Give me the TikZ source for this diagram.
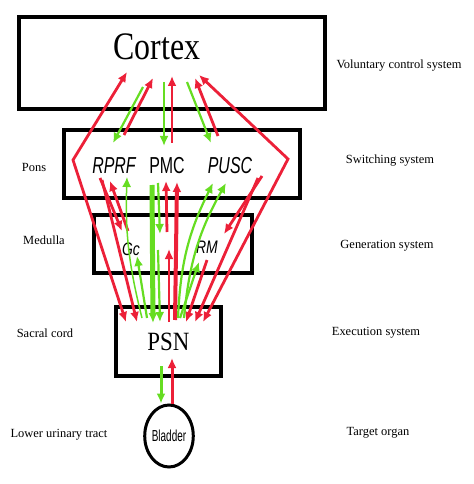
\documentclass[tikz,border=0pt]{standalone}
\usepackage{fontspec}
\setmainfont{Liberation Serif}
\setsansfont{Liberation Sans}
\usetikzlibrary{shapes,arrows,arrows.meta}
\definecolor{nred}{RGB}{236,32,56}
\definecolor{ngreen}{RGB}{102,221,34}
\newcommand{\tall}[2]{\scalebox{1}[#1]{#2}}
\tikzset{box/.style={draw,line width=3.5bp,inner sep=0pt},
  lvl/.style={font=\fontsize{12.5}{14}\selectfont},
  nuc/.style={font=\sffamily\fontsize{16}{18}\selectfont},
  rd/.style={->,nred,line width=2.8bp},
  gr/.style={->,ngreen,line width=2.2bp}}
\begin{document}
\begin{tikzpicture}[auto, >={Latex[length=10bp,width=9bp]}, x=1bp, y=-1bp]
\useasboundingbox (0,0) rectangle (474,484);
% levels
\node[box,minimum width=306bp,minimum height=92bp] (cortexbox) at (172,63) {};
\node[box,minimum width=236bp,minimum height=68bp] (pons) at (182,164) {};
\node[box,minimum width=158bp,minimum height=58bp] (medulla) at (173,244) {};
\node[box,minimum width=105bp,minimum height=69bp,font=\fontsize{23}{24}\selectfont] (psn) at (168.5,341.5) {\tall{1.15}{PSN}};
\node[box,ellipse,line width=3bp,minimum width=48bp,minimum height=62bp,font=\sffamily\fontsize{10}{11}\selectfont] (bladder) at (169,436) {\tall{1.6}{Bladder}};
\node[font=\fontsize{32}{34}\selectfont] (cortex) at (157,47) {\tall{1.22}{Cortex}};
% nuclei
\node[nuc] (rprf) at (114,166) {\tall{1.45}{\itshape RPRF}};
\node[nuc] (pmc) at (167,166) {\tall{1.45}{PMC}};
\node[nuc] (pusc) at (230,166) {\tall{1.45}{\itshape PUSC}};
\node[nuc,font=\sffamily\itshape\fontsize{14}{16}\selectfont] (gc) at (131,249) {\tall{1.3}{Gc}};
\node[nuc,font=\sffamily\itshape\fontsize{14}{16}\selectfont] (rm) at (207,247) {\tall{1.3}{RM}};
% left and right captions
\node[lvl] (lpons) at (34,167) {Pons};
\node[lvl] (lmed) at (44,240) {Medulla};
\node[lvl] (lsac) at (45,333) {Sacral cord};
\node[lvl] (lut) at (59,435) {Lower urinary tract};
\node[lvl] (rvol) at (399,66) {Voluntary control system};
\node[lvl] (rsw) at (390,161) {Switching system};
\node[lvl] (rgen) at (387,246) {Generation system};
\node[lvl] (rex) at (376,333) {Execution system};
\node[lvl] (rtar) at (378,433) {Target organ};
% pathways
\coordinate (lv) at (73,160);
\coordinate (rv) at (288,159);
\draw[rd,<->] (126,322) -- (lv) -- (127,72);
\draw[rd,<->] (203,322) -- (rv) -- (199,75);
\foreach \xa/\ya/\xb/\yb in {124/135/153/78,172/143/172/76,218/136/195/78,
  262/176/224/234,258/178/195/322,207/260/186/322,100/178/122/231,
  128/231/110/181,102/180/137/322,167/232/166/181,169/322/169/249}
  \draw[rd] (\xa,\ya) -- (\xb,\yb);
\draw[rd,line width=4bp] (175,320) -- (177,182);
\foreach \xa/\ya/\xb/\yb in {143/87/113/143,164/82/164/146,187/82/211/143,
  158/183/160/234,147/318/137/256,158/250/160/322,180/318/199/262}
  \draw[gr] (\xa,\ya) -- (\xb,\yb);
\draw[gr,line width=5bp] (152,185) -- (153,323);
\draw[gr,line width=1.5bp] (142,318) to[bend left=8] (127,177);
\draw[gr] (178,318) to[bend left=12] (213,183);
\draw[gr] (184,318) to[bend left=12] (226,183);
% bladder loop
\draw[gr,line width=3bp] (161,366) -- (bladder.north -| 161,0);
\draw[rd,line width=3bp] (bladder.north -| 172,0) -- (172,358);
\end{tikzpicture}
\end{document}
